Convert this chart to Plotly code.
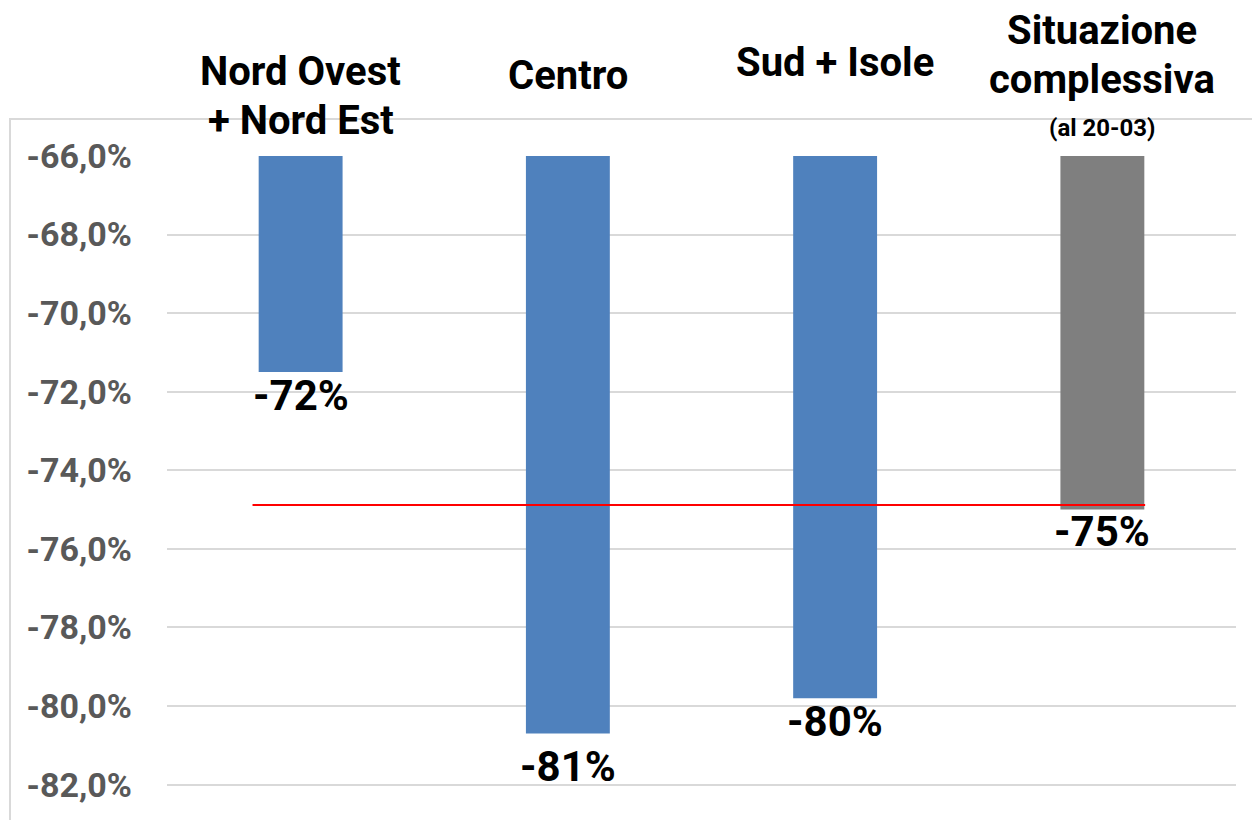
import plotly.graph_objects as go

# categories and values (percent change)
categories = ["Nord Ovest + Nord Est", "Centro", "Sud + Isole", "Situazione complessiva"]
values = [-71.5, -80.7, -79.8, -75.0]
value_labels = ["-72%", "-81%", "-80%", "-75%"]
bar_colors = ["#4f81bd", "#4f81bd", "#4f81bd", "#7f7f7f"]
overall_line = -74.88
tick_vals = [-66, -68, -70, -72, -74, -76, -78, -80, -82]
tick_text = ["-66,0%", "-68,0%", "-70,0%", "-72,0%", "-74,0%",
             "-76,0%", "-78,0%", "-80,0%", "-82,0%"]

W, H = 1252, 820
L, R, T, B = 167, 16, 156, 0
plot_h = H - T - B


def py(ypix):
    # pixel row -> paper y
    return (H - B - ypix) / plot_h


FONT = "Roboto"

fig = go.Figure()
fig.add_trace(go.Bar(
    x=categories, y=values,
    marker=dict(color=bar_colors, line=dict(width=0)),
    hoverinfo="skip",
))

# red reference line (overall situation)
fig.add_shape(type="line", xref="x", yref="y",
              x0=-0.18, x1=3.16, y0=overall_line, y1=overall_line,
              line=dict(color="#ff0000", width=2), layer="above")

# outer chart frame
fig.add_shape(type="rect", xref="paper", yref="paper",
              x0=(10 - L) / (W - L - R), x1=1.1, y0=-0.1, y1=py(119),
              line=dict(color="#d9d9d9", width=2), layer="below")

# data labels under each bar
label_shift = [3, -6, 3, 5]
for cat, v, lab, s in zip(categories, values, value_labels, label_shift):
    fig.add_annotation(x=cat, y=v, xref="x", yref="y", text=lab,
                       showarrow=False, yanchor="top", yshift=s,
                       font=dict(family=FONT, size=42, color="black", weight="bold"))

# category labels sitting above the plot
top_labels = [
    (0, "Nord Ovest", 72, 40),
    (0, "+ Nord Est", 120, 40),
    (1, "Centro", 75, 40),
    (2, "Sud + Isole", 62, 40),
    (3, "Situazione", 30, 40),
    (3, "complessiva", 80, 40),
    (3, "(al 20-03)", 128, 24),
]
for i, txt, ypix, size in top_labels:
    fig.add_annotation(x=categories[i], y=py(ypix), xref="x", yref="paper",
                       text=txt, showarrow=False, yanchor="middle",
                       font=dict(family=FONT, size=size, color="black", weight="bold"))

fig.update_layout(
    width=W, height=H,
    margin=dict(l=L, r=R, t=T, b=B, pad=0),
    plot_bgcolor="white", paper_bgcolor="white",
    showlegend=False,
    bargap=0.686,
)
fig.update_xaxes(showticklabels=False, showgrid=False, zeroline=False,
                 range=[-0.5, 3.5])
fig.update_yaxes(range=[-82.9, -66], tickvals=tick_vals, ticktext=tick_text,
                 showgrid=True, gridcolor="#d9d9d9", gridwidth=1.5,
                 zeroline=False, ticks="", ticklabelstandoff=34,
                 tickfont=dict(family=FONT, size=34, color="#595959", weight="bold"))

fig.write_html("out.html", config={"displayModeBar": False},
               post_script="document.body.style.margin='0';")
